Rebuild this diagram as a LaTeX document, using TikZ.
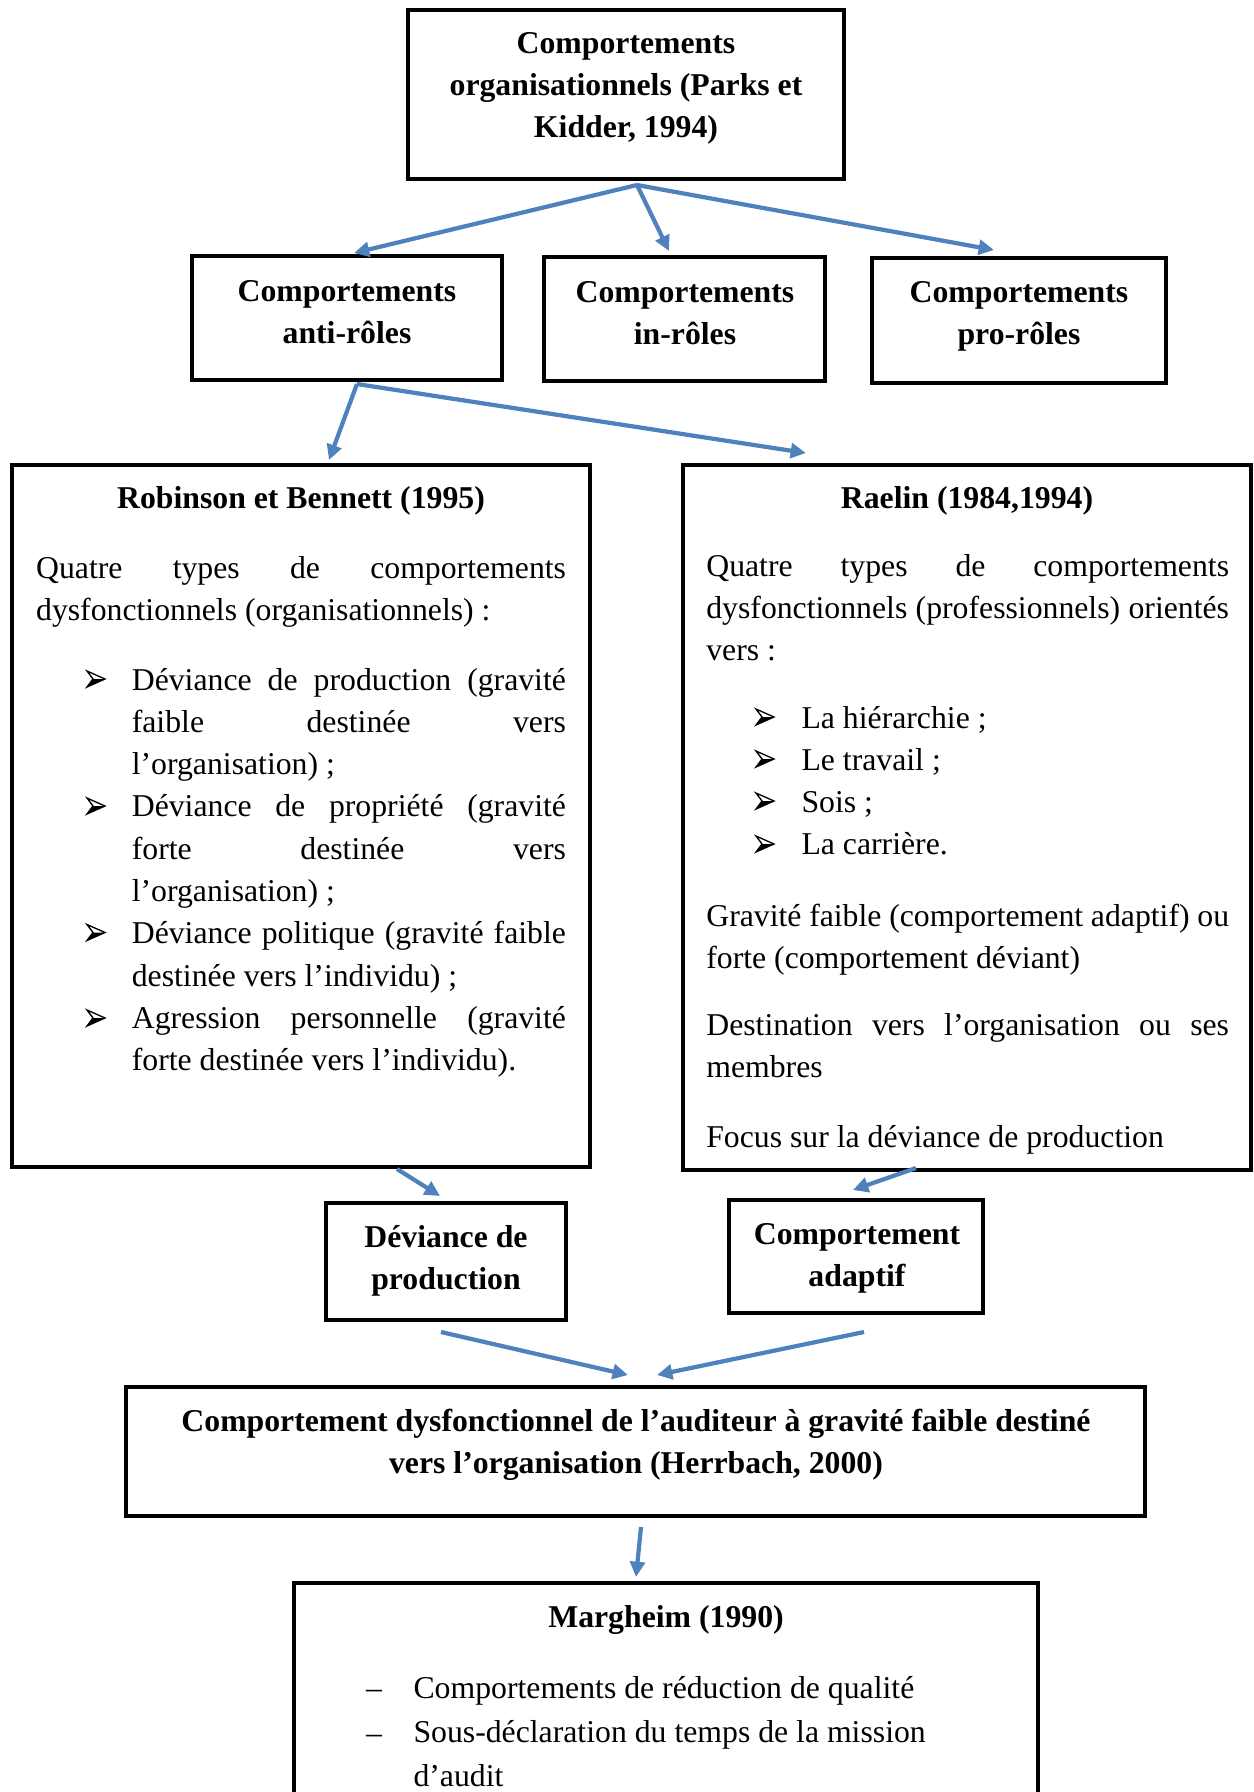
\documentclass[tikz,border=0pt]{standalone}
\usepackage{fontspec}
\setmainfont{Liberation Serif}
\usetikzlibrary{arrows.meta,fit}
\definecolor{arrblue}{RGB}{79,129,189}
\newcommand{\jl}[1]{\makebox[\hsize][s]{#1}}
\tikzset{
  box/.style={draw, line width=1.4pt, inner sep=0pt},
  normsp/.style={execute at begin node={\spaceskip=0pt\xspaceskip=0pt\relax}},
  fixsp/.style={execute at begin node={\spaceskip=\fontdimen2\font\xspaceskip=\fontdimen2\font\relax}},
  ttl/.style={inner sep=0pt, anchor=base, align=center, fixsp, font=\fontsize{12}{16}\selectfont\bfseries},
  para/.style={inner sep=0pt, anchor=base west, align=justify, normsp, font=\fontsize{12}{16}\selectfont},
  bulnode/.style={inner sep=0pt, anchor=base},
  arr/.style={draw=arrblue, line width=1.6pt, -{Triangle[length=5.8pt,width=5.6pt]}},
  barrow/.pic={
    \draw[line width=0.5pt, fill=white, line join=miter] (0,-19) -- (18,-11) -- (0,-3) -- (6,-11) -- cycle;
    \fill[black] (6,-11) -- (18,-11) -- (0,-3) -- cycle;
  },
}
\begin{document}
\begin{tikzpicture}[x=0.378pt, y=-0.378pt]
\useasboundingbox (0,0) rectangle (1254,1792);
\clip (0,0) rectangle (1254,1792);

% boxes
\node[box, fit={(408,10) (844,179)}] (top) {};
\node[box, fit={(192,256) (502,380)}] (anti) {};
\node[box, fit={(544,257) (825,381)}] (inr) {};
\node[box, fit={(872,258) (1166,383)}] (pro) {};
\node[box, fit={(12,465) (590,1167)}] (rob) {};
\node[box, fit={(683,465) (1251,1170)}] (rae) {};
\node[box, fit={(326,1203) (566,1320)}] (dev) {};
\node[box, fit={(729,1200) (983,1313)}] (ada) {};
\node[box, fit={(126,1387) (1145,1516)}] (her) {};
\node[box, fit={(294,1583) (1038,1840)}] (mar) {};

% titles
\node[ttl, text width=160pt] (ttop) at (626,53) {Comportements\\organisationnels (Parks et\\Kidder, 1994)};
\node[ttl, text width=110pt] (tanti) at (347,301) {Comportements\\anti-rôles};
\node[ttl, text width=100pt] (tin) at (685,302) {Comportements\\in-rôles};
\node[ttl, text width=105pt] (tpro) at (1019,302) {Comportements\\pro-rôles};
\node[ttl, text width=200pt] (trob) at (301,508) {Robinson et Bennett (1995)};
\node[ttl, text width=200pt] (trae) at (967,508) {Raelin (1984,1994)};
\node[ttl, text width=88pt] (tdev) at (446,1247) {Déviance de\\production};
\node[ttl, text width=92pt] (tada) at (857,1244) {Comportement\\adaptif};
\node[ttl, text width=380pt] (ther) at (636,1431) {Comportement dysfonctionnel de l’auditeur à gravité faible destiné\\vers l’organisation (Herrbach, 2000)};
\node[ttl, text width=200pt] (tmar) at (666,1627) {Margheim (1990)};

% Robinson body
\node[para, text width=200.3pt] (rp1) at (35.6,578.5) {\jl{Quatre types de comportements}\\dysfonctionnels (organisationnels) :};
\node[para, text width=164.1pt] (rl) at (131.3,690) {%
\jl{Déviance de production (gravité}\\
\jl{faible destinée vers}\\
l’organisation) ;\\
\jl{Déviance de propriété (gravité}\\
\jl{forte destinée vers}\\
l’organisation) ;\\
\jl{Déviance politique (gravité faible}\\
destinée vers l’individu) ;\\
\jl{Agression personnelle (gravité}\\
forte destinée vers l’individu).};
\pic at (87,690) {barrow};
\pic at (87,817) {barrow};
\pic at (87,943.5) {barrow};
\pic at (87,1029) {barrow};

% Raelin body
\node[para, text width=197.6pt] (ap1) at (705.8,576) {\jl{Quatre types de comportements}\\\jl{dysfonctionnels (professionnels) orientés}\\vers :};
\node[para, text width=150pt] (al) at (801,728) {La hiérarchie ;\\Le travail ;\\Sois ;\\La carrière.};
\pic at (756,728) {barrow};
\pic at (756,770) {barrow};
\pic at (756,812) {barrow};
\pic at (756,855) {barrow};
\node[para, text width=197.6pt] (ap2) at (705.8,926) {\jl{Gravité faible (comportement adaptif) ou}\\forte (comportement déviant)};
\node[para, text width=197.6pt] (ap3) at (705.8,1035) {\jl{Destination vers l’organisation ou ses}\\membres};
\node[para, text width=197.6pt] (ap4) at (705.8,1147) {Focus sur la déviance de production};

% Margheim body
\node[para, text width=240pt, font=\fontsize{12}{16.8}\selectfont] (ml) at (413,1698) {Comportements de réduction de qualité\\Sous-déclaration du temps de la mission\\d’audit};
\node[bulnode, font=\fontsize{12}{16}\selectfont] (md1) at (374,1698) {–};
\node[bulnode, font=\fontsize{12}{16}\selectfont] (md2) at (374,1743) {–};

% connector end points
\coordinate (s1) at (637,185);
\coordinate (e1) at (354,253);
\coordinate (e2) at (669,251);
\coordinate (e3) at (994,250);
\coordinate (s2) at (357,384);
\coordinate (e4) at (329,460);
\coordinate (e5) at (806,453);
\coordinate (s6) at (397,1169);
\coordinate (e6) at (440,1196);
\coordinate (s7) at (916,1168);
\coordinate (e7) at (853,1190);
\coordinate (s8) at (441,1332);
\coordinate (e8) at (628,1375);
\coordinate (s9) at (864,1332);
\coordinate (e9) at (657,1375);
\coordinate (s10) at (641,1527);
\coordinate (e10) at (636,1577);

\draw[arr] (s1) -- (e1);
\draw[arr] (s1) -- (e2);
\draw[arr] (s1) -- (e3);
\draw[arr] (s2) -- (e4);
\draw[arr] (s2) -- (e5);
\draw[arr] (s6) -- (e6);
\draw[arr] (s7) -- (e7);
\draw[arr] (s8) -- (e8);
\draw[arr] (s9) -- (e9);
\draw[arr] (s10) -- (e10);
\end{tikzpicture}
\end{document}
